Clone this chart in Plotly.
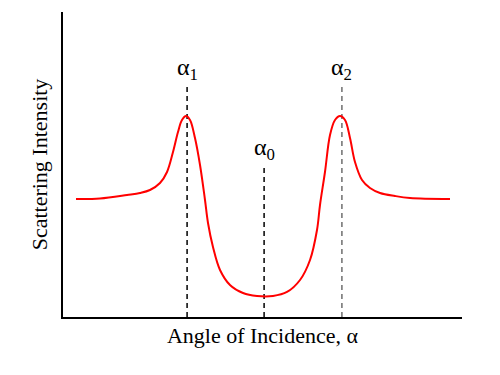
import plotly.graph_objects as go

# Curve (arbitrary units: angle 0-100, intensity 0-100)
angle = [3.26, 9.27, 16.04, 19.30, 21.80, 24.31, 26.07, 27.57, 28.82, 29.82,
         30.83, 31.83, 33.08, 34.34, 35.59, 36.34, 37.59, 39.35, 41.85, 45.11,
         48.62, 52.63, 56.14, 59.40, 61.91, 63.66, 64.41, 65.66, 66.92, 68.17,
         69.42, 70.68, 71.93, 73.18, 74.94, 76.94, 79.45, 83.21, 86.97, 96.99]
intensity = [38.69, 38.85, 40.00, 40.66, 41.64, 43.93, 47.54, 54.10, 60.66, 64.59,
             65.90, 64.59, 58.69, 49.84, 38.36, 30.82, 22.95, 15.41, 10.49, 7.87,
             6.89, 6.89, 8.20, 12.13, 18.69, 28.52, 36.72, 47.54, 59.67, 64.59,
             65.90, 64.59, 58.69, 50.82, 44.92, 42.30, 40.66, 39.67, 39.02, 38.69]

# Marker lines
marker_names = ["α<sub>1</sub>", "α<sub>0</sub>", "α<sub>2</sub>"]
marker_x = [31.1, 50.4, 69.9]
marker_top = [75.4, 49.2, 75.4]
marker_colors = ["#000000", "#000000", "#6e6e6e"]

FONT = "Liberation Serif"

fig = go.Figure()
for name, mx, top, col in zip(marker_names, marker_x, marker_top, marker_colors):
    fig.add_trace(go.Scatter(x=[mx, mx], y=[0, top], mode="lines",
                             line=dict(color=col, width=1.5, dash="5px,4px"),
                             hoverinfo="skip", showlegend=False))
    fig.add_annotation(x=mx, y=top, text=name, showarrow=False,
                       xanchor="center", yanchor="bottom", yshift=1,
                       font=dict(family=FONT, size=24, color="black"))

fig.add_trace(go.Scatter(x=angle, y=intensity, mode="lines",
                         line=dict(color="#ff0000", width=2, shape="spline", smoothing=1.0),
                         showlegend=False))

fig.update_layout(
    width=500, height=375,
    margin=dict(l=63, r=38, t=12, b=58),
    paper_bgcolor="white", plot_bgcolor="white",
    font=dict(family=FONT, size=22, color="black"),
    xaxis=dict(range=[0, 100], showgrid=False, zeroline=False, showticklabels=False,
               ticks="", showline=True, linecolor="black", linewidth=2,
               title=dict(text="Angle of Incidence, α", standoff=10,
                          font=dict(family=FONT, size=22))),
    yaxis=dict(range=[0, 100], showgrid=False, zeroline=False, showticklabels=False,
               ticks="", showline=True, linecolor="black", linewidth=2,
               title=dict(text="Scattering Intensity", standoff=7,
                          font=dict(family=FONT, size=22))),
)

fig.write_html("out.html")
